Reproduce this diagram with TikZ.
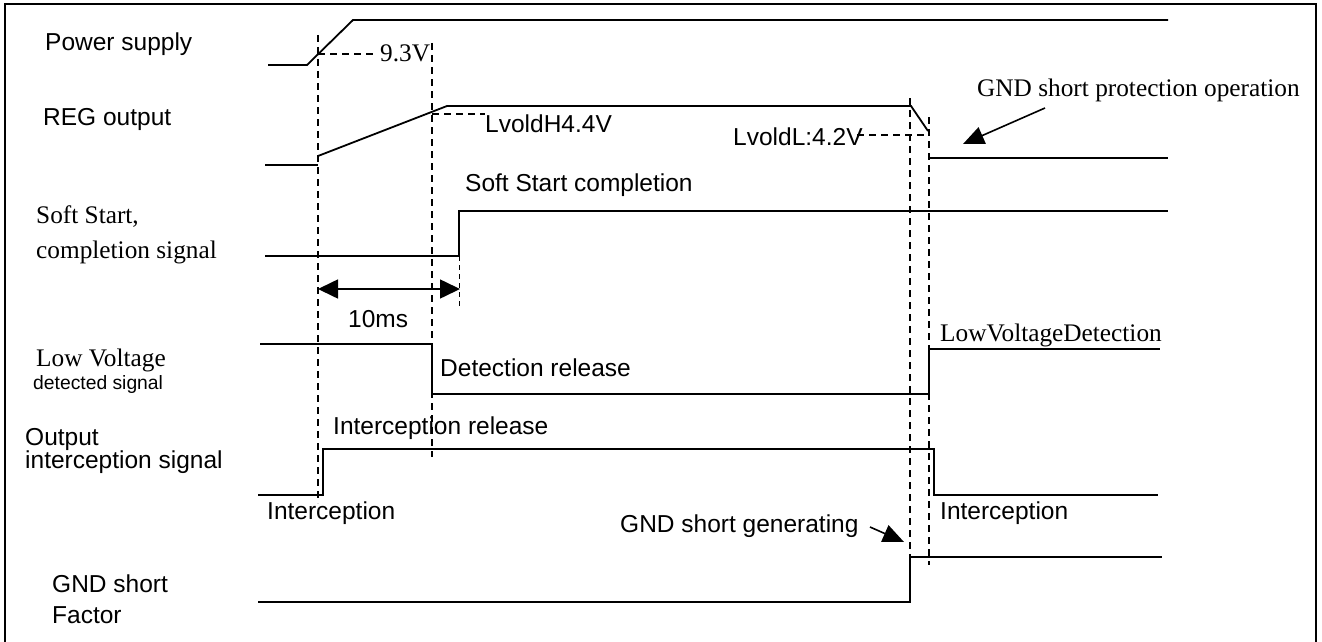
\documentclass[tikz,border=0pt]{standalone}
\usepackage{fontspec}
\setmainfont{Liberation Serif}
\setsansfont{Liberation Sans}
\usetikzlibrary{arrows.meta}

\begin{document}
\begin{tikzpicture}[x=1pt,y=-1pt,
    sig/.style={line width=1.8pt},
    guide/.style={line width=1.2pt,dash pattern=on 7pt off 5pt},
    fineguide/.style={line width=1pt,dash pattern=on 5pt off 4pt},
    lab/.style={font=\sffamily\fontsize{24.5}{28}\selectfont,inner sep=0pt,anchor=base west},
    tlab/.style={font=\rmfamily\fontsize{25.3}{29}\selectfont,inner sep=0pt,anchor=base west},
    slab/.style={font=\sffamily\fontsize{19.3}{22}\selectfont,inner sep=0pt,anchor=base west},
    pointer/.style={line width=1.6pt,-{Triangle[length=21pt,width=18pt]}}]
  \useasboundingbox (0,0) rectangle (1322,642);
  \draw[line width=2pt] (5,642) -- (5,4) -- (1316,4) -- (1316,642);

  % signal names
  \node[lab]  (power)   at (45,51)  {Power supply};
  \node[lab]  (reg)     at (43,125) {REG output};
  \node[tlab] (soft1)   at (36,223) {Soft Start,};
  \node[tlab] (soft2)   at (36,258) {completion signal};
  \node[tlab] (low1)    at (36,366) {Low Voltage};
  \node[slab] (low2)    at (33,389) {detected signal};
  \node[lab]  (out1)    at (25,445) {Output};
  \node[lab]  (out2)    at (25,468) {interception signal};
  \node[lab]  (gnd1)    at (52,592) {GND short};
  \node[lab]  (gnd2)    at (52,623) {Factor};

  % waveforms
  \draw[sig] (268,65) -- (307,65) -- (353,20) -- (1168,20);
  \draw[sig] (265,165) -- (318,165);
  \draw[sig] (318,156) -- (447,106) -- (911,106) -- (928,131);
  \draw[sig] (929,158) -- (1168,158);
  \draw[sig] (265,256) -- (459,256) -- (459,211) -- (1168,211);
  \draw[sig] (260,344) -- (432,344) -- (432,394) -- (929,394) -- (929,349) -- (1160,349);
  \draw[sig] (258,495) -- (323,495) -- (323,449) -- (934,449) -- (934,495) -- (1158,495);
  \draw[sig] (258,602) -- (910,602) -- (910,557) -- (1162,557);

  % guide lines
  \draw[guide] (318,35) -- (318,503);
  \draw[guide] (432,43) -- (432,457);
  \draw[guide] (910,98) -- (910,557);
  \draw[guide] (929,117) -- (929,565);
  \draw[guide] (318,54) -- (375,54);
  \draw[guide] (432,114) -- (485,114);
  \draw[guide] (857,135) -- (929,135);
  \draw[fineguide] (459,256) -- (459,307);

  % levels and events
  \node[tlab] (v93)     at (380,62)  {9.3V};
  \node[lab]  (lvoldh)  at (485,132) {LvoldH4.4V};
  \node[lab]  (lvoldl)  at (733,145) {LvoldL:4.2V};
  \node[tlab] (prot)    at (977,96)  {GND short protection operation};
  \node[lab]  (ssdone)  at (465,191) {Soft Start completion};
  \node[lab]  (ms)      at (348,327) {10ms};
  \node[lab]  (detrel)  at (440,376) {Detection release};
  \node[tlab] (lvdet)   at (940,341) {LowVoltageDetection};
  \node[lab]  (intrel)  at (333,434) {Interception release};
  \node[lab]  (intl)    at (267,519) {Interception};
  \node[lab]  (intr)    at (940,519) {Interception};
  \node[lab]  (gndgen)  at (620,532) {GND short generating};

  % arrows
  \coordinate (msL) at (318,289);
  \coordinate (msR) at (460,289);
  \draw[line width=1.6pt,{Triangle[length=20pt,width=19pt]}-{Triangle[length=20pt,width=19pt]}] (msL) -- (msR);
  \coordinate (protTail) at (1045,108);
  \coordinate (protTip) at (963,144);
  \draw[pointer] (protTail) -- (protTip);
  \coordinate (genTail) at (870,527);
  \coordinate (genTip) at (904,542);
  \draw[pointer] (genTail) -- (genTip);
\end{tikzpicture}
\end{document}
